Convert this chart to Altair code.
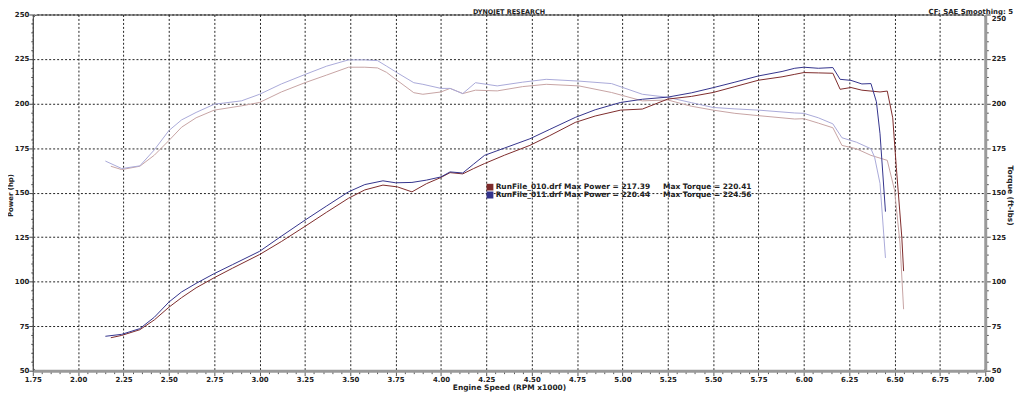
import altair as alt
import pandas as pd

runs = ["RunFile_010.drf", "RunFile_011.drf"]
max_power = ["217.39", "220.44"]
max_torque = ["220.41", "224.56"]

# Power, run 010
rpm_p010 = [2.18, 2.24, 2.34, 2.42, 2.50, 2.57, 2.65, 2.75, 2.85, 3.00, 3.12, 3.25, 3.37, 3.49, 3.58, 3.68,
            3.76, 3.84, 3.92, 4.00, 4.05, 4.12, 4.18, 4.24, 4.35, 4.49, 4.60, 4.74, 4.85, 4.99, 5.11, 5.25,
            5.38, 5.50, 5.62, 5.75, 5.88, 5.95, 6.00, 6.08, 6.16, 6.20, 6.26, 6.32, 6.37, 6.42, 6.46, 6.49,
            6.51, 6.54, 6.55]
pow_010 = [68.5, 69.8, 73.0, 78.5, 85.6, 91.0, 96.5, 102.2, 107.5, 115.2, 122.5, 131.0, 139.0, 146.8, 151.5, 154.2,
           153.2, 150.4, 155.0, 158.5, 161.2, 160.5, 163.5, 166.3, 171.0, 176.5, 182.0, 189.4, 193.0, 196.3, 196.9, 202.5,
           204.0, 206.2, 209.5, 213.1, 215.0, 216.4, 217.4, 217.2, 217.0, 208.0, 209.0, 207.5, 207.0, 206.5, 207.0, 192.0,
           164.0, 125.0, 105.9]

# Power, run 011
rpm_p011 = [2.15, 2.24, 2.34, 2.42, 2.50, 2.57, 2.65, 2.75, 2.85, 3.00, 3.12, 3.25, 3.37, 3.49, 3.58, 3.68,
            3.75, 3.84, 3.92, 4.00, 4.05, 4.12, 4.18, 4.24, 4.35, 4.49, 4.60, 4.74, 4.85, 4.99, 5.11, 5.25,
            5.38, 5.50, 5.62, 5.75, 5.88, 5.95, 6.00, 6.08, 6.16, 6.20, 6.26, 6.32, 6.37, 6.40, 6.42, 6.45]
pow_011 = [69.3, 70.4, 73.6, 80.0, 88.5, 94.2, 99.0, 104.5, 109.5, 117.0, 125.5, 134.5, 142.5, 150.4, 154.5, 156.6,
           155.5, 155.7, 157.0, 158.8, 161.6, 161.0, 166.0, 170.9, 175.0, 180.2, 185.5, 192.2, 196.5, 200.6, 202.4, 203.6,
           206.0, 208.9, 212.0, 215.5, 218.0, 219.8, 220.4, 219.8, 220.2, 213.6, 213.0, 211.0, 211.2, 201.0, 183.0, 139.3]

# Torque, run 010
rpm_t010 = [2.18, 2.24, 2.34, 2.42, 2.50, 2.57, 2.65, 2.75, 2.90, 3.00, 3.12, 3.25, 3.37, 3.49, 3.58, 3.65,
            3.70, 3.74, 3.85, 3.90, 4.00, 4.05, 4.12, 4.19, 4.31, 4.45, 4.58, 4.76, 4.94, 5.11, 5.25, 5.38,
            5.50, 5.62, 5.75, 5.95, 6.00, 6.08, 6.16, 6.21, 6.29, 6.37, 6.46, 6.50, 6.53, 6.55]
trq_010 = [164.8, 162.9, 164.8, 171.0, 179.2, 186.7, 192.0, 196.3, 198.7, 200.6, 206.5, 211.7, 216.0, 220.4, 220.4, 220.0,
           217.5, 214.4, 206.1, 205.2, 206.5, 208.5, 205.6, 207.5, 207.1, 209.5, 210.8, 209.9, 206.2, 201.5, 202.0, 198.5,
           196.3, 194.5, 193.2, 191.3, 191.5, 189.0, 186.4, 176.5, 174.6, 170.9, 168.1, 151.4, 121.7, 84.5]

# Torque, run 011
rpm_t011 = [2.15, 2.24, 2.34, 2.42, 2.50, 2.57, 2.65, 2.75, 2.90, 3.00, 3.12, 3.25, 3.37, 3.49, 3.58, 3.65,
            3.70, 3.76, 3.85, 3.90, 4.00, 4.05, 4.12, 4.19, 4.31, 4.45, 4.58, 4.76, 4.94, 5.11, 5.25, 5.38,
            5.50, 5.62, 5.75, 5.95, 6.00, 6.08, 6.16, 6.21, 6.29, 6.37, 6.39, 6.42, 6.45]
trq_011 = [167.7, 163.5, 165.0, 174.0, 184.8, 190.8, 195.0, 199.6, 201.5, 205.2, 211.0, 216.3, 221.0, 224.5, 224.5, 224.1,
           221.0, 217.2, 211.7, 210.8, 208.5, 208.5, 205.6, 211.7, 209.9, 212.0, 213.6, 212.6, 211.2, 205.2, 203.5, 200.5,
           197.8, 197.0, 196.3, 194.7, 194.5, 192.0, 188.6, 180.8, 178.3, 174.6, 169.9, 155.1, 113.3]

power_colors = ["#7d2b2b", "#33338c"]
torque_colors = ["#c6a3a3", "#a9a9d9"]

x_ticks = [round(1.75 + 0.05 * i, 2) for i in range(106)]
y_ticks = list(range(50, 251, 5))


def frame(rpms, vals, run):
    return pd.DataFrame({"rpm": rpms, "value": vals, "run": run})


df_power = pd.concat([frame(rpm_p010, pow_010, runs[0]), frame(rpm_p011, pow_011, runs[1])])
df_torque = pd.concat([frame(rpm_t010, trq_010, runs[0]), frame(rpm_t011, trq_011, runs[1])])

FONT = "DejaVu Sans"
NB = "\u00a0"
legend_labels = [
    f"{runs[i]} Max Power = {max_power[i]}{NB * 5}Max Torque = {max_torque[i]}" for i in range(2)
]
label_expr = f"datum.label == '{runs[0]}' ? '{legend_labels[0]}' : '{legend_labels[1]}'"

x_major = "abs(datum.value*4 - round(datum.value*4)) < 0.001"
y_major = "datum.value % 25 == 0"

x_axis = alt.Axis(
    values=x_ticks, format=".2f", labelExpr=f"{x_major} ? datum.label : ''",
    labelOverlap=False, labelBound=False, labelFlush=False,
    grid=True, gridDash=[2, 2], gridColor="#222",
    gridOpacity={"condition": {"test": x_major, "value": 1}, "value": 0},
    tickSize={"condition": {"test": x_major, "value": 5}, "value": 3},
    tickColor="#555", domainColor="#9a9a9a", domainWidth=3,
    labelFont=FONT, labelFontSize=7, labelFontWeight="bold", labelColor="#222", labelPadding=0,
    title="Engine Speed (RPM x1000)", titleFont=FONT, titleFontSize=7.5, titleFontWeight="bold",
    titleColor="#222", titlePadding=1,
)

y_left = alt.Axis(
    orient="left", values=y_ticks, format="d", labelExpr=f"{y_major} ? datum.label : ''",
    labelOverlap=False, labelBound=False, labelFlush=False,
    grid=True, gridDash=[2, 2], gridColor="#222",
    gridOpacity={"condition": {"test": y_major, "value": 1}, "value": 0},
    tickSize={"condition": {"test": y_major, "value": 4}, "value": 2},
    tickColor="#444", domainColor="#555", domainWidth=1,
    labelFont=FONT, labelFontSize=7, labelFontWeight="bold", labelColor="#222", labelPadding=0,
    title="Power (hp)", titleFont=FONT, titleFontSize=7, titleFontWeight="bold",
    titleColor="#222", titleX=-19, titleY=182,
)

y_right = alt.Axis(
    orient="right", values=y_ticks, format="d", labelExpr=f"{y_major} ? datum.label : ''",
    labelOverlap=False, labelBound=False, labelFlush=False, grid=False,
    tickSize={"condition": {"test": y_major, "value": 5}, "value": 3},
    labelBaseline={"condition": {"test": "datum.value == 250", "value": "top"}, "value": "middle"},
    tickColor="#444", domainColor="#9a9a9a", domainWidth=3,
    labelFont=FONT, labelFontSize=7, labelFontWeight="bold", labelColor="#222", labelPadding=1,
    title="Torque (ft-lbs)", titleFont=FONT, titleFontSize=7.5, titleFontWeight="bold",
    titleColor="#222", titleX=20, titleY=182,
)

x_scale = alt.Scale(domain=[1.75, 7.0], nice=False, zero=False)
y_scale = alt.Scale(domain=[50, 250], nice=False, zero=False)

torque = alt.Chart(df_torque).mark_line(strokeWidth=1).encode(
    x=alt.X("rpm:Q", scale=x_scale, axis=x_axis),
    y=alt.Y("value:Q", scale=y_scale, axis=y_right),
    color=alt.Color("run:N", scale=alt.Scale(domain=runs, range=torque_colors), legend=None),
)

power = alt.Chart(df_power).mark_line(strokeWidth=1).encode(
    x=alt.X("rpm:Q", scale=x_scale, axis=x_axis),
    y=alt.Y("value:Q", scale=y_scale, axis=y_left),
    color=alt.Color(
        "run:N", scale=alt.Scale(domain=runs, range=power_colors),
        legend=alt.Legend(
            orient="none", legendX=457, legendY=170, title=None, padding=0,
            symbolType="square", symbolSize=12, symbolStrokeWidth=3.5, rowPadding=0,
            clipHeight=8,
            labelExpr=label_expr, labelLimit=500, labelFont=FONT, labelFontSize=7.5,
            labelFontWeight="bold", labelColor="#222", labelOffset=2,
        ),
    ),
)

title_text = alt.Chart(alt.Data(values=[{"t": "DYNOJET RESEARCH"}])).mark_text(
    font=FONT, fontSize=6.5, fontWeight="bold", color="#222", align="center", baseline="alphabetic"
).encode(x=alt.value(480), y=alt.value(-0.5), text="t:N")

cf_text = alt.Chart(alt.Data(values=[{"t": "CF: SAE  Smoothing: 5"}])).mark_text(
    font=FONT, fontSize=7, fontWeight="bold", color="#222", align="right", baseline="alphabetic"
).encode(x=alt.value(988), y=alt.value(-0.5), text="t:N")

chart = alt.layer(torque, power, title_text, cf_text).resolve_scale(
    y="independent", color="independent"
).properties(
    width=960, height=359,
    autosize=alt.AutoSizeParams(type="none"),
    padding={"left": 25, "top": 5, "right": 31, "bottom": 25},
    background="white",
).configure_view(stroke="#333", strokeWidth=1, cornerRadius=4)

chart.save("out.html", embed_options={"renderer": "svg", "actions": False})
